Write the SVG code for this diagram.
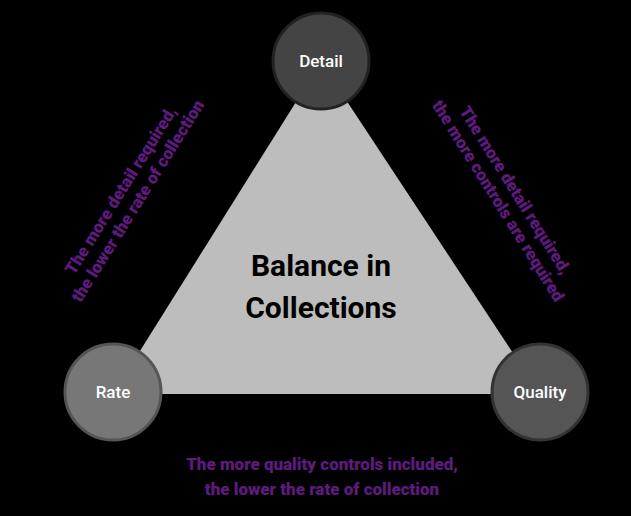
<svg xmlns="http://www.w3.org/2000/svg" width="631" height="516" viewBox="0 0 631 516">
<style>
.lbl{font-family:Roboto,"Liberation Sans",sans-serif;font-weight:900;font-size:17px;fill:#5e1a7e;text-anchor:middle}
.nt{font-family:Roboto,"Liberation Sans",sans-serif;font-size:17px;font-weight:500;fill:#fff;text-anchor:middle}
</style>
<rect width="631" height="516" fill="#000"/>
<g id="triangle"><polygon points="321,62 113,394 540,394" fill="#bdbdbd"/>
<text x="321" y="276" font-family="Roboto,'Liberation Sans',sans-serif" font-weight="bold" font-size="30" text-anchor="middle" fill="#000">Balance in</text>
<text x="321" y="318" font-family="Roboto,'Liberation Sans',sans-serif" font-weight="bold" font-size="30" text-anchor="middle" fill="#000">Collections</text></g>
<g id="detail"><circle cx="321" cy="61" r="48" fill="#444" stroke="#222" stroke-width="3"/><text class="nt" x="321" y="67">Detail</text></g>
<g id="rate"><circle cx="113" cy="392" r="48" fill="#777" stroke="#555" stroke-width="3"/><text class="nt" x="113" y="398">Rate</text></g>
<g id="quality"><circle cx="540" cy="392" r="48" fill="#555" stroke="#333" stroke-width="3"/><text class="nt" x="540" y="398">Quality</text></g>
<g id="connectors">
<g transform="translate(130,196) rotate(-58)"><text class="lbl" y="-5">The more detail required,</text><text class="lbl" y="15">the lower the rate of collection</text></g>
<g transform="translate(506,196) rotate(58)"><text class="lbl" y="-5">The more detail required,</text><text class="lbl" y="15">the more controls are required</text></g>
<text class="lbl" x="322" y="470">The more quality controls included,</text>
<text class="lbl" x="322" y="495">the lower the rate of collection</text>
</g>
</svg>
